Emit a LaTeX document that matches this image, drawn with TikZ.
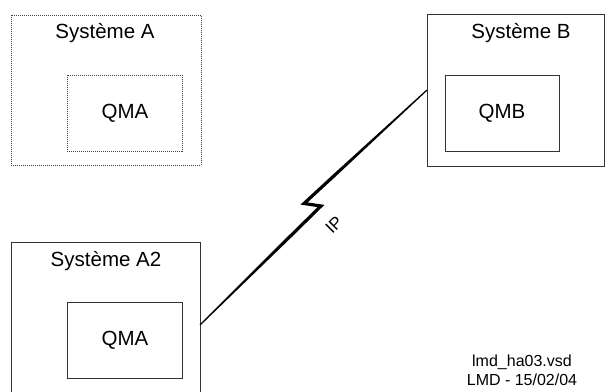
\documentclass[tikz,border=0pt]{standalone}
\usepackage{fontspec}
\setmainfont{Liberation Sans}
\usetikzlibrary{calc}
\begin{document}
\begin{tikzpicture}[x=1pt,y=-1pt,
  sysbox/.style={draw=black!80, line width=0.8pt},
  dotbox/.style={draw=black!75, line width=0.8pt, dash pattern=on 1pt off 1pt},
  lbl/.style={font=\fontsize{20.5}{24}\selectfont, inner sep=0pt},
  note/.style={font=\fontsize{16}{19}\selectfont, inner sep=0pt, align=center},
  bolt/.style={draw=black, line width=3.2pt, line join=miter, miter limit=20, line cap=butt}]
\useasboundingbox (0,0) rectangle (605,391);
\clip (0,0) rectangle (605,391);

% Système A (dotted)
\draw[dotbox] (11,15) rectangle (201,165);
\draw[dotbox] (67,75) rectangle (182,151);
\node[lbl] (sa) at (105,33) {Système A};
\node[lbl] (qa) at (125,113) {QMA};

% Système B
\draw[sysbox] (427,14) rectangle (604,166);
\draw[sysbox] (445,75) rectangle (559,151);
\node[lbl] (sb) at (521,33) {Système B};
\node[lbl] (qb) at (502,113) {QMB};

% Système A2
\draw[sysbox] (11,242) rectangle (200,400);
\draw[sysbox] (67,302) rectangle (182,378);
\node[lbl] (sa2) at (106,261) {Système A2};
\node[lbl] (qa2) at (125,340) {QMA};

% IP link: tapered lines meeting in a lightning bolt
\coordinate (pa2) at (200,325);
\coordinate (pb) at (427,90);
\coordinate (k1) at (304,203.5);
\coordinate (k2) at (321,206);
\coordinate (m1) at ($(pb)!0.75!(k1)$);
\coordinate (m2) at ($(pa2)!0.75!(k2)$);
\fill[black] ($(pb)!0.6pt!90:(k1)$) -- ($(m1)!1.6pt!-90:(pb)$)
  -- ($(m1)!1.6pt!90:(pb)$) -- ($(pb)!0.6pt!-90:(k1)$) -- cycle;
\fill[black] ($(pa2)!0.6pt!90:(k2)$) -- ($(m2)!1.6pt!-90:(pa2)$)
  -- ($(m2)!1.6pt!90:(pa2)$) -- ($(pa2)!0.6pt!-90:(k2)$) -- cycle;
\draw[bolt] (m1) -- (k1) -- (k2) -- (m2);
\node[font=\fontsize{17}{20}\selectfont, rotate=45, inner sep=0pt] (ip) at (334,225) {IP};

% File reference
\node[note] (fn) at (522,362) {lmd\_ha03.vsd};
\node[note] (dt) at (522,380) {LMD - 15/02/04};
\end{tikzpicture}
\end{document}
